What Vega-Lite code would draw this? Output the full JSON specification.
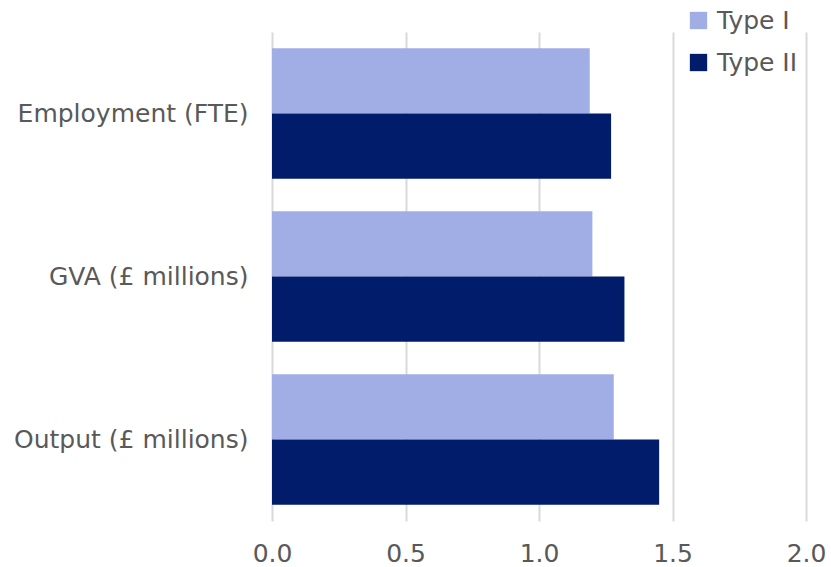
{
  "$schema": "https://vega.github.io/schema/vega-lite/v6.json",
  "width": 534,
  "height": 489,
  "autosize": {"type": "none"},
  "padding": {"left": 272, "top": 32, "right": 25, "bottom": 46},
  "background": "white",
  "config": {
    "view": {"stroke": null},
    "font": "DejaVu Sans",
    "axis": {"labelFont": "DejaVu Sans", "labelColor": "#595959", "labelFontSize": 25, "labelFontWeight": "normal", "labelLimit": 400},
    "legend": {"labelFont": "DejaVu Sans", "labelColor": "#595959", "labelFontSize": 25, "labelFontWeight": "normal"}
  },
  "data": {
    "values": [
      {"measure": "Employment (FTE)", "type": "Type I", "value": 1.19},
      {"measure": "Employment (FTE)", "type": "Type II", "value": 1.27},
      {"measure": "GVA (£ millions)", "type": "Type I", "value": 1.2},
      {"measure": "GVA (£ millions)", "type": "Type II", "value": 1.32},
      {"measure": "Output (£ millions)", "type": "Type I", "value": 1.28},
      {"measure": "Output (£ millions)", "type": "Type II", "value": 1.45}
    ]
  },
  "mark": {"type": "bar"},
  "encoding": {
    "y": {
      "field": "measure",
      "type": "nominal",
      "sort": ["Employment (FTE)", "GVA (£ millions)", "Output (£ millions)"],
      "scale": {"paddingInner": 0.2, "paddingOuter": 0.1},
      "axis": {"title": null, "ticks": false, "domain": false, "labelPadding": 24}
    },
    "yOffset": {"field": "type", "type": "nominal", "sort": ["Type I", "Type II"]},
    "x": {
      "field": "value",
      "type": "quantitative",
      "scale": {"domain": [0, 2]},
      "axis": {
        "title": null,
        "values": [0, 0.5, 1, 1.5, 2],
        "format": ".1f",
        "ticks": false,
        "domain": false,
        "labelPadding": 20,
        "gridColor": "#d9d9d9",
        "gridWidth": 2,
        "labelFlush": false
      }
    },
    "color": {
      "field": "type",
      "type": "nominal",
      "scale": {"domain": ["Type I", "Type II"], "range": ["#A1AEE5", "#001C6B"]},
      "legend": {
        "title": null,
        "orient": "none",
        "legendX": 414,
        "legendY": -24,
        "symbolType": "square",
        "symbolSize": 300,
        "symbolStrokeWidth": 0,
        "rowPadding": 16,
        "labelOffset": 6
      }
    }
  }
}
